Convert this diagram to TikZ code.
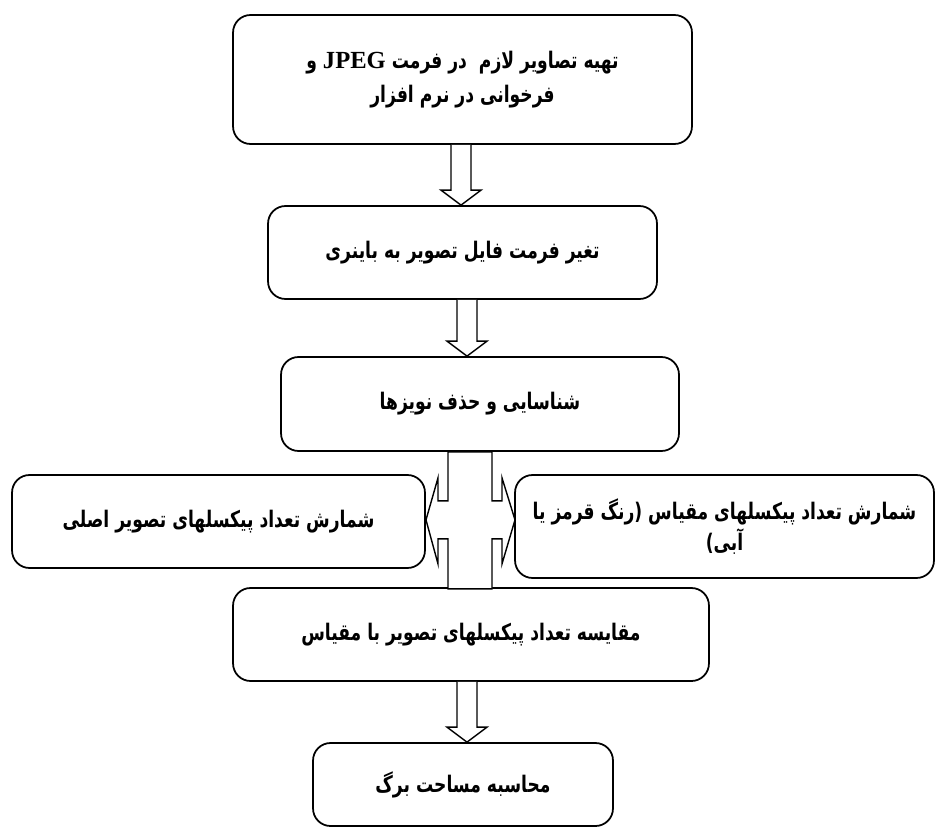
\documentclass[tikz,border=0pt]{standalone}
\usepackage{fontspec}
\usetikzlibrary{calc}
\TeXXeTstate=1
\newfontfamily\persianfont[Script=Arabic, FakeStretch=0.75]{DejaVu Sans}
\newfontfamily\latinfont{Liberation Serif}
\newcommand{\faline}[1]{\beginR #1\endR}
% hollow block arrow from (#1) down to its tip at (#2)
\newcommand{\hollowarrow}[2]{%
  \draw [hollow]
    ([xshift=-0.2cm]#1) -- ([xshift=-0.2cm, yshift=0.3cm]#2)
    -- ([xshift=-0.4cm, yshift=0.3cm]#2) -- (#2)
    -- ([xshift=0.4cm, yshift=0.3cm]#2) -- ([xshift=0.2cm, yshift=0.3cm]#2)
    -- ([xshift=0.2cm]#1);}
\tikzset{
  stepbox/.style={rectangle, draw=black, line width=1pt, fill=white,
    rounded corners=0.35cm, inner sep=0pt, align=center,
    font=\persianfont\bfseries\fontsize{13}{19}\selectfont},
  hollow/.style={draw=black, line width=0.8pt, fill=white}
}

\begin{document}
\begin{tikzpicture}[x=0.02cm, y=-0.02cm]
  \useasboundingbox (0,0) rectangle (936,831);

  % input images
  \node (b1)
    [stepbox, minimum width=9.18cm, minimum height=2.58cm]
    at(462.5,79.5)
    {\faline{تهیه تصاویر لازم\ \ در فرمت \beginL{\latinfont\fontsize{14}{19}\selectfont JPEG}\endL{} و}\\
     \faline{فرخوانی در نرم افزار}};

  % binary
  \node (b2)
    [stepbox, minimum width=7.78cm, minimum height=1.86cm]
    at(462.5,252.5)
    {\faline{تغیر فرمت فایل تصویر به باینری}};

  % noise
  \node (b3)
    [stepbox, minimum width=7.96cm, minimum height=1.88cm]
    at(480,404)
    {\faline{شناسایی و حذف نویزها}};

  % counting
  \node (b4)
    [stepbox, minimum width=8.26cm, minimum height=1.86cm]
    at(218.5,521.5)
    {\faline{شمارش تعداد پیکسلهای تصویر اصلی}};
  \node (b5)
    [stepbox, minimum width=8.38cm, minimum height=2.06cm,
     font=\persianfont\bfseries\fontsize{13}{18}\selectfont]
    at(724.5,526.5)
    {\faline{شمارش تعداد پیکسلهای مقیاس (رنگ قرمز یا}\\
     \faline{آبی)}};

  % compare
  \node (b6)
    [stepbox, minimum width=9.52cm, minimum height=1.86cm]
    at(471,634.5)
    {\faline{مقایسه تعداد پیکسلهای تصویر با مقیاس}};

  % area
  \node (b7)
    [stepbox, minimum width=6cm, minimum height=1.66cm]
    at(463,784.5)
    {\faline{محاسبه مساحت برگ}};

  % arrows
  \coordinate (a1) at (461,0);
  \coordinate (a2) at (467,0);
  \coordinate (mid) at (470,519);
  \coordinate (a1s) at (b1.south -| a1);
  \coordinate (a1e) at (b2.north -| a1);
  \coordinate (a2s) at (b2.south -| a2);
  \coordinate (a2e) at (b3.north -| a2);
  \coordinate (a3s) at (b6.south -| a2);
  \coordinate (a3e) at (b7.north -| a2);
  \hollowarrow{a1s}{a1e}
  \hollowarrow{a2s}{a2e}
  \hollowarrow{a3s}{a3e}

  % split to both counts
  \draw [hollow]
    (b3.south -| mid) ++(-22,0) -- ++(0,49) -- ++(-10,0) -- ++(0,-23)
    -- ++(-12,42) -- ++(12,44) -- ++(0,-25) -- ++(10,0) -- ++(0,50)
    -- ++(44,0) -- ++(0,-50) -- ++(10,0) -- ++(0,25) -- ++(13,-44)
    -- ++(-13,-42) -- ++(0,23) -- ++(-10,0) -- ++(0,-49) -- cycle;
\end{tikzpicture}
\end{document}
